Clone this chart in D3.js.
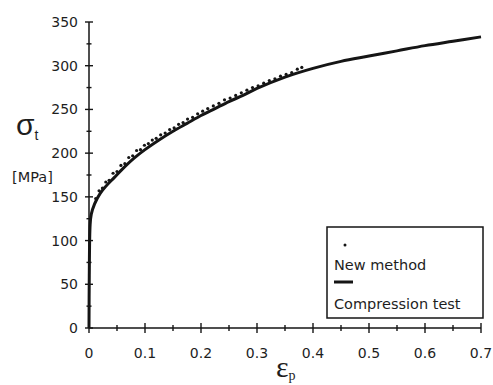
<!DOCTYPE html>
<html>
<head>
<meta charset="utf-8">
<script src="https://cdn.jsdelivr.net/npm/d3@7"></script>
<style>
  html, body { margin: 0; padding: 0; background: #fff; }
  svg { display: block; }
</style>
</head>
<body>
<svg id="chart" width="493" height="385"></svg>
<script>
// ---- data ----
const xTicks = [0, 0.1, 0.2, 0.3, 0.4, 0.5, 0.6, 0.7];
const xTickLabels = ["0", "0.1", "0.2", "0.3", "0.4", "0.5", "0.6", "0.7"];
const yTicks = [0, 50, 100, 150, 200, 250, 300, 350];
const yTickLabels = ["0", "50", "100", "150", "200", "250", "300", "350"];

// Compression test (solid curve)
const compStrain = [0, 0.0005, 0.002, 0.004, 0.01, 0.02, 0.03, 0.045, 0.06, 0.08, 0.1, 0.125, 0.15, 0.175, 0.2, 0.225, 0.25, 0.275, 0.3, 0.35, 0.4, 0.45, 0.5, 0.55, 0.6, 0.65, 0.7];
const compStress = [0, 60, 118, 130, 142, 154, 162, 172, 182, 194, 204, 215, 225, 234, 243, 251, 259, 266, 274, 287, 297, 305, 311, 317, 323, 328, 333];

// New method (dots)
const newStrain = [0.012,0.018,0.024,0.03,0.036,0.043,0.05,0.057,0.064,0.071,0.078,0.085,0.092,0.099,0.106,0.113,0.12,0.128,0.136,0.144,0.152,0.16,0.168,0.176,0.185,0.194,0.203,0.212,0.222,0.232,0.242,0.252,0.262,0.272,0.282,0.292,0.302,0.312,0.322,0.332,0.342,0.352,0.362,0.372,0.38];
const newStress = [148,157,160,167,169,177,179,186,188,195,197,203,204,209,211,215,217,221,223,227,229,233,235,239,241,245,248,251,254,257,261,263,266,269,272,275,277,280,283,285,288,290,292,296,298];

const legendLabels = ["New method", "Compression test"];

// ---- drawing ----
const svg = d3.select("#chart");
const ink = "#151515";
const x = d3.scaleLinear().domain([0, 0.7]).range([89, 481]);
const y = d3.scaleLinear().domain([0, 350]).range([328, 22]);

// axes
const xAxisG = svg.append("g").attr("transform", `translate(0,${y(0)})`);
xAxisG.append("line").attr("x1", x(0)).attr("x2", x(0.7)).attr("stroke", ink).attr("stroke-width", 1.5);
const xMinor = d3.range(0, 15).map(i => i * 0.05);
xAxisG.selectAll(".xt").data(xMinor).join("line")
  .attr("x1", d => x(d)).attr("x2", d => x(d))
  .attr("y1", (d, i) => i % 2 === 0 ? -5 : -3)
  .attr("y2", (d, i) => i % 2 === 0 ? 5 : 3)
  .attr("stroke", ink).attr("stroke-width", 1.4);
svg.append("g").selectAll("text").data(xTicks).join("text")
  .attr("x", d => x(d)).attr("y", 358)
  .attr("text-anchor", "middle")
  .attr("font-family", "DejaVu Sans, sans-serif").attr("font-size", 14)
  .attr("fill", "#1e1e1e")
  .text((d, i) => xTickLabels[i]);

const yAxisG = svg.append("g").attr("transform", `translate(${x(0)},0)`);
yAxisG.append("line").attr("y1", y(0)).attr("y2", y(350)).attr("stroke", ink).attr("stroke-width", 1.5);
const yMinor = d3.range(0, 15).map(i => i * 25);
yAxisG.selectAll(".yt").data(yMinor).join("line")
  .attr("y1", d => y(d)).attr("y2", d => y(d))
  .attr("x1", (d, i) => i % 2 === 0 ? -4 : -2.5)
  .attr("x2", (d, i) => i % 2 === 0 ? 4 : 2.5)
  .attr("stroke", ink).attr("stroke-width", 1.4);
svg.append("g").selectAll("text").data(yTicks).join("text")
  .attr("x", 78).attr("y", d => y(d) + 5)
  .attr("text-anchor", "end")
  .attr("font-family", "DejaVu Sans, sans-serif").attr("font-size", 14)
  .attr("fill", "#1e1e1e")
  .text((d, i) => yTickLabels[i]);

// compression curve
const compData = compStrain.map((e, i) => [e, compStress[i]]);
svg.append("path")
  .datum(compData)
  .attr("fill", "none").attr("stroke", ink).attr("stroke-width", 3)
  .attr("stroke-linejoin", "round")
  .attr("d", d3.line().x(d => x(d[0])).y(d => y(d[1])).curve(d3.curveCatmullRom.alpha(0.5)));

// new method dots
const newData = newStrain.map((e, i) => [e, newStress[i]]);
svg.append("g").selectAll("circle").data(newData).join("circle")
  .attr("cx", d => x(d[0])).attr("cy", d => y(d[1]))
  .attr("r", 1.6).attr("fill", ink);

// axis titles
const sig = svg.append("text").attr("x", 16).attr("y", 135)
  .attr("font-family", "Liberation Sans, Arial, sans-serif").attr("font-size", 30).attr("fill", "#1e1e1e");
sig.append("tspan").text("σ");
sig.append("tspan").attr("font-size", 14).attr("dy", 5).text("t");
svg.append("text").attr("x", 12).attr("y", 182)
  .attr("font-family", "DejaVu Sans, sans-serif").attr("font-size", 14.5).attr("fill", "#1e1e1e")
  .text("[MPa]");

const eps = svg.append("text").attr("x", 276).attr("y", 377)
  .attr("font-family", "Liberation Serif, serif").attr("font-size", 30).attr("fill", "#1e1e1e");
eps.append("tspan").text("ε");
eps.append("tspan").attr("font-size", 14).attr("dy", 3).text("p");

// legend
const lg = svg.append("g");
lg.append("rect").attr("x", 327).attr("y", 227).attr("width", 156).attr("height", 91)
  .attr("fill", "#fff").attr("stroke", ink).attr("stroke-width", 1.5);
lg.append("circle").attr("cx", 345).attr("cy", 245).attr("r", 1.5).attr("fill", ink);
lg.append("text").attr("x", 334).attr("y", 270)
  .attr("font-family", "DejaVu Sans, sans-serif").attr("font-size", 14.5).attr("fill", "#1e1e1e")
  .text(legendLabels[0]);
lg.append("line").attr("x1", 334).attr("x2", 353).attr("y1", 282).attr("y2", 282)
  .attr("stroke", ink).attr("stroke-width", 3);
lg.append("text").attr("x", 334).attr("y", 309)
  .attr("font-family", "DejaVu Sans, sans-serif").attr("font-size", 14.5).attr("fill", "#1e1e1e")
  .text(legendLabels[1]);
</script>
</body>
</html>
